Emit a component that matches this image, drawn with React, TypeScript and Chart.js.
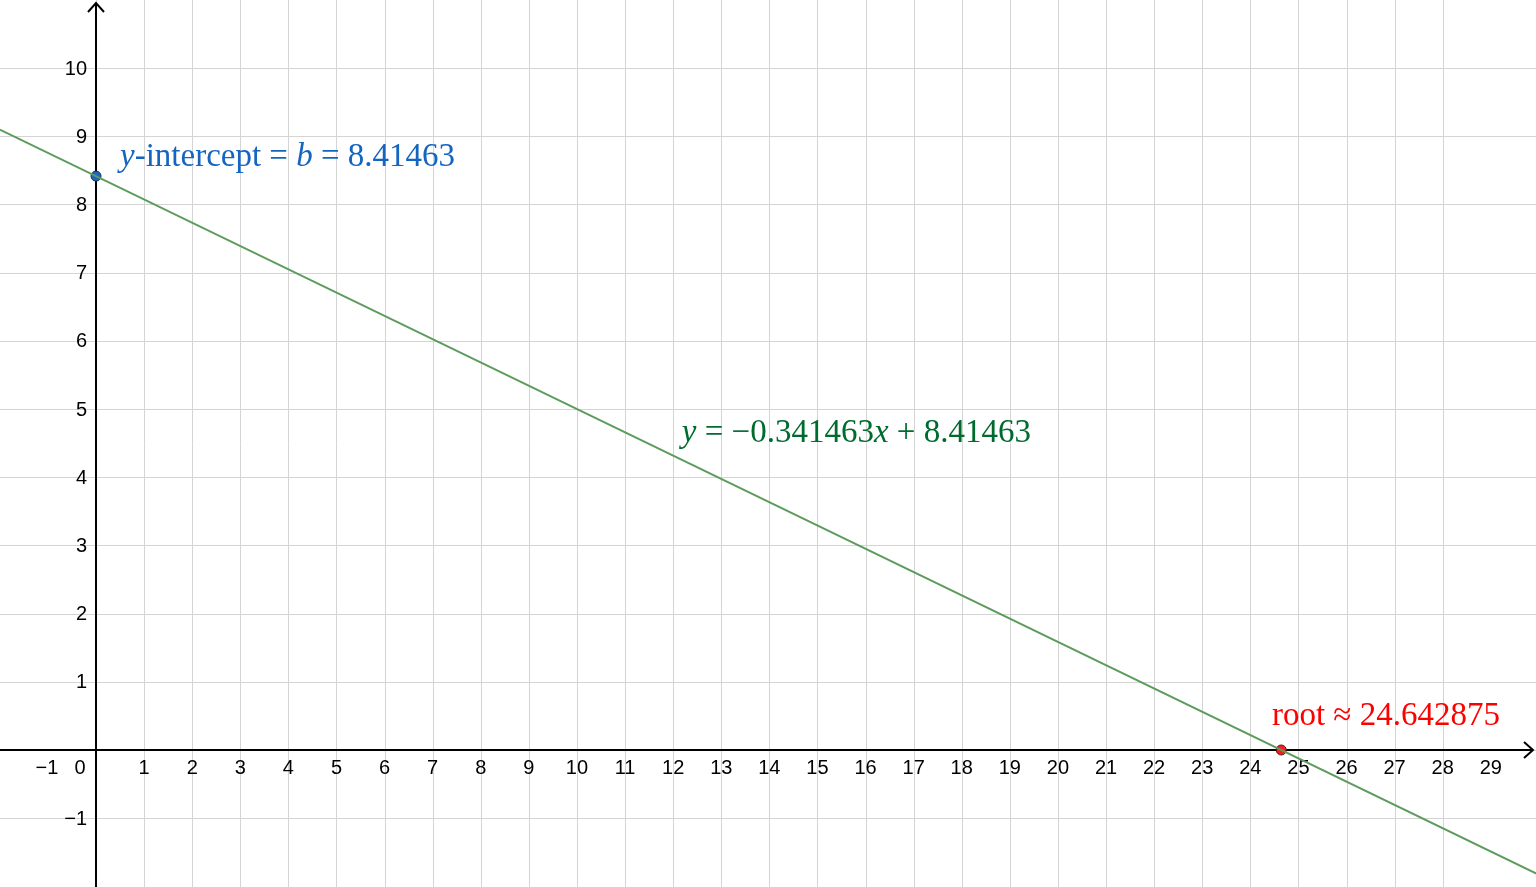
import React, { useRef, useEffect } from 'react';
import { Chart, registerables } from 'chart.js';

Chart.register(...registerables);

// line y = m x + b, sampled at the two ends of the view
const slope = -0.341463;
const intercept = 8.41463;
const root = 24.642875;
const lineXs = [-2, 30];
const lineYs = [9.0976, -1.8292];

// special points
const interceptPoint = [0, 8.41463];
const rootPoint = [24.642875, 0];

// tick labels
const xTicks = [-1, 0, 1, 2, 3, 4, 5, 6, 7, 8, 9, 10, 11, 12, 13, 14, 15, 16, 17, 18, 19, 20, 21, 22, 23, 24, 25, 26, 27, 28, 29];
const yTicks = [-1, 1, 2, 3, 4, 5, 6, 7, 8, 9, 10];

const fmt = (v: number) => (v < 0 ? '\u2212' + Math.abs(v) : String(v));

const axesPlugin = {
  id: 'geoAxes',
  beforeDatasetsDraw(chart: any) {
    const { ctx, chartArea, scales } = chart;
    const x0 = scales.x.getPixelForValue(0);
    const y0 = scales.y.getPixelForValue(0);
    ctx.save();
    // grid from the scale ticks
    ctx.strokeStyle = '#d4d4d4';
    ctx.lineWidth = 1;
    ctx.beginPath();
    scales.x.ticks.forEach((t: any) => {
      if (!Number.isInteger(t.value)) return;
      const p = Math.round(scales.x.getPixelForValue(t.value)) + 0.5;
      ctx.moveTo(p, chartArea.top);
      ctx.lineTo(p, chartArea.bottom);
    });
    scales.y.ticks.forEach((t: any) => {
      if (!Number.isInteger(t.value)) return;
      const p = Math.round(scales.y.getPixelForValue(t.value)) + 0.5;
      ctx.moveTo(chartArea.left, p);
      ctx.lineTo(chartArea.right, p);
    });
    ctx.stroke();

    ctx.strokeStyle = '#000';
    ctx.lineWidth = 2;
    ctx.beginPath();
    ctx.moveTo(chartArea.left, y0);
    ctx.lineTo(chartArea.right - 3, y0);
    ctx.moveTo(x0, chartArea.bottom);
    ctx.lineTo(x0, chartArea.top + 3);
    ctx.stroke();
    // arrows
    ctx.beginPath();
    ctx.moveTo(chartArea.right - 12, y0 - 8);
    ctx.lineTo(chartArea.right - 3, y0);
    ctx.lineTo(chartArea.right - 12, y0 + 8);
    ctx.moveTo(x0 - 8, chartArea.top + 12);
    ctx.lineTo(x0, chartArea.top + 3);
    ctx.lineTo(x0 + 8, chartArea.top + 12);
    ctx.stroke();

    // tick labels
    ctx.fillStyle = '#000';
    ctx.font = '20px "Liberation Sans", Arial, sans-serif';
    ctx.textAlign = 'center';
    ctx.textBaseline = 'middle';
    xTicks.forEach((v) => {
      let px = scales.x.getPixelForValue(v);
      if (v === 0) px = x0 - 16;
      if (v === -1) px -= 1;
      ctx.fillText(fmt(v), px, y0 + 18);
    });
    ctx.textAlign = 'right';
    yTicks.forEach((v) => {
      ctx.fillText(fmt(v), x0 - 9, scales.y.getPixelForValue(v) + 1);
    });
    ctx.restore();
  },
  afterDatasetsDraw(chart: any) {
    const { ctx, scales } = chart;
    const px = (v: number) => scales.x.getPixelForValue(v);
    const py = (v: number) => scales.y.getPixelForValue(v);
    const drawParts = (parts: [string, boolean][], x: number, y: number, color: string, size: number) => {
      ctx.save();
      ctx.fillStyle = color;
      ctx.textAlign = 'left';
      ctx.textBaseline = 'alphabetic';
      let cx = x;
      parts.forEach(([t, it]) => {
        ctx.font = (it ? 'italic ' : '') + size + 'px "Liberation Serif", "DejaVu Serif", serif';
        ctx.fillText(t, cx, y);
        cx += ctx.measureText(t).width;
      });
      ctx.restore();
    };
    drawParts(
      [['y', true], ['-intercept = ', false], ['b', true], [' = ' + intercept, false]],
      px(interceptPoint[0] + 0.5), py(8.56), '#1565c0', 33
    );
    drawParts(
      [['y', true], [' = \u2212' + Math.abs(slope), false], ['x', true], [' + ' + intercept, false]],
      px(12.18), py(4.52), '#006b2e', 33
    );
    drawParts([['root \u2248 ' + root, false]], px(24.45), py(0.37), '#ff0000', 33);
  },
};

const App: React.FC = () => {
  const canvasRef = useRef<HTMLCanvasElement>(null);
  const chartRef = useRef<Chart | null>(null);

  useEffect(() => {
    document.body.style.margin = '0';
    if (!canvasRef.current) return;
    const ctx = canvasRef.current.getContext('2d');
    if (!ctx) return;
    if (chartRef.current) chartRef.current.destroy();

    chartRef.current = new Chart(ctx, {
      type: 'scatter',
      data: {
        datasets: [
          {
            type: 'line',
            data: lineXs.map((x, i) => ({ x, y: lineYs[i] })),
            borderColor: '#5d9b5d',
            borderWidth: 2,
            pointRadius: 0,
            fill: false,
          },
          {
            data: [{ x: interceptPoint[0], y: interceptPoint[1] }],
            backgroundColor: '#1f66c4',
            borderColor: '#1a2f4d',
            borderWidth: 1,
            pointRadius: 5,
          },
          {
            data: [{ x: rootPoint[0], y: rootPoint[1] }],
            backgroundColor: '#ff1a1a',
            borderColor: '#4d1a1a',
            borderWidth: 1,
            pointRadius: 5,
          },
        ],
      },
      options: {
        animation: false,
        responsive: false,
        maintainAspectRatio: false,
        layout: { padding: 0, autoPadding: false },
        plugins: {
          legend: { display: false },
          tooltip: { enabled: false },
        },
        scales: {
          x: {
            type: 'linear',
            display: false,
            min: -1.996,
            max: 29.94,
            ticks: { stepSize: 1 },
          },
          y: {
            type: 'linear',
            display: false,
            min: -2.009,
            max: 10.997,
            ticks: { stepSize: 1 },
          },
        },
      },
      plugins: [axesPlugin],
    });

    return () => {
      if (chartRef.current) {
        chartRef.current.destroy();
        chartRef.current = null;
      }
    };
  }, []);

  return (
    <div style={{ position: 'fixed', left: 0, top: 0, width: 1536, height: 887, background: '#fff' }}>
      <canvas ref={canvasRef} width={1536} height={887} style={{ width: 1536, height: 887 }} />
    </div>
  );
};

export default App;
